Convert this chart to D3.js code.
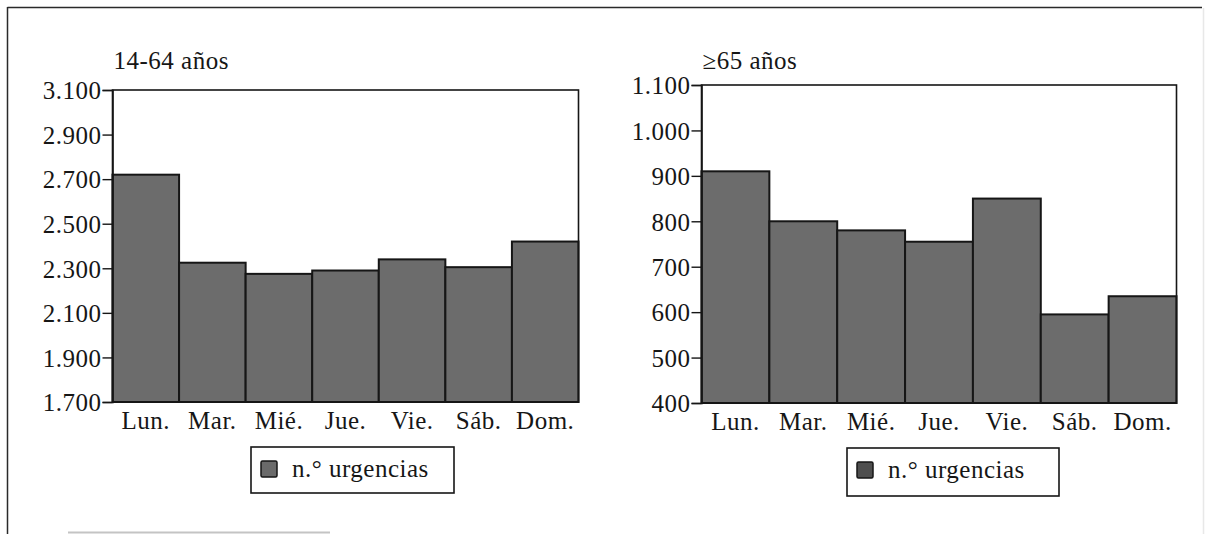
<!DOCTYPE html>
<html lang="es">
<head>
<meta charset="utf-8">
<script src="https://cdn.jsdelivr.net/npm/d3@7"></script>
<style>
  html, body { margin: 0; padding: 0; background: #fff; }
  svg { display: block; }
  text { font-family: "Liberation Serif", "Times New Roman", serif; fill: #161616; letter-spacing: 0.5px; }
</style>
</head>
<body>
<svg id="chart" width="1212" height="534"></svg>
<script>
// Urgencias por día de la semana, por grupo de edad
const dias = ["Lun.", "Mar.", "Mié.", "Jue.", "Vie.", "Sáb.", "Dom."];

const urgencias14a64 = [2720, 2325, 2275, 2290, 2340, 2305, 2420];
const urgencias65mas = [910, 800, 780, 755, 850, 595, 635];

const ticks14a64 = [1700, 1900, 2100, 2300, 2500, 2700, 2900, 3100];
const ticks65mas = [400, 500, 600, 700, 800, 900, 1000, 1100];

const titulos = ["14-64 años", "\u226565 años"];
const leyenda = "n.\u00b0 urgencias";

// Separador de miles con punto
const es = d3.formatLocale({ decimal: ",", thousands: ".", grouping: [3], currency: ["", " €"] });
const fmt = es.format(",d");

const svg = d3.select("#chart");
const INK = "#161616";
const BAR = "#6c6c6c";
const FONT = "Liberation Serif, serif";

// Marco exterior de la página
svg.append("line").attr("x1", 7.5).attr("x2", 1202).attr("y1", 7.5).attr("y2", 7.5)
  .attr("stroke", "#2a2a2a").attr("stroke-width", 1.5);
svg.append("line").attr("x1", 7.5).attr("x2", 7.5).attr("y1", 7).attr("y2", 534)
  .attr("stroke", "#2a2a2a").attr("stroke-width", 1.5);
svg.append("line").attr("x1", 1203.5).attr("x2", 1203.5).attr("y1", 8).attr("y2", 534)
  .attr("stroke", "#e8e8e8").attr("stroke-width", 1.5);
svg.append("line").attr("x1", 68).attr("x2", 330).attr("y1", 532.5).attr("y2", 532.5)
  .attr("stroke", "#c4c4c4").attr("stroke-width", 2);

const paneles = [
  { titulo: titulos[0], valores: urgencias14a64, ticks: ticks14a64,
    x0: 112.5, x1: 578.5, yTop: 90, yBot: 402,
    leg: { x: 251, y: 447, w: 203, h: 46 }, swatch: "#6a6a6a" },
  { titulo: titulos[1], valores: urgencias65mas, ticks: ticks65mas,
    x0: 701.5, x1: 1176.5, yTop: 85, yBot: 403,
    leg: { x: 847, y: 448, w: 212, h: 48 }, swatch: "#4e4e4e" }
];

paneles.forEach(p => {
  const g = svg.append("g");
  const x = d3.scaleBand().domain(dias).range([p.x0, p.x1]).padding(0);
  const y = d3.scaleLinear().domain([d3.min(p.ticks), d3.max(p.ticks)]).range([p.yBot, p.yTop]);

  // Barras
  g.append("g").selectAll("rect").data(p.valores).join("rect")
    .attr("x", (d, i) => x(dias[i]))
    .attr("y", d => y(d))
    .attr("width", x.bandwidth())
    .attr("height", d => y.range()[0] - y(d))
    .attr("fill", BAR)
    .attr("stroke", INK)
    .attr("stroke-width", 2);

  // Recuadro del área de trazado
  g.append("rect")
    .attr("x", p.x0).attr("y", p.yTop)
    .attr("width", p.x1 - p.x0).attr("height", p.yBot - p.yTop)
    .attr("fill", "none").attr("stroke", INK).attr("stroke-width", 1.6);

  // Eje vertical
  const ay = g.append("g").attr("transform", `translate(${p.x0},0)`)
    .call(d3.axisLeft(y).tickValues(p.ticks).tickFormat(fmt).tickSize(10).tickPadding(1));
  ay.select(".domain").attr("stroke", INK).attr("stroke-width", 1.6);
  ay.selectAll(".tick line").attr("stroke", INK).attr("stroke-width", 1.4);
  ay.selectAll(".tick text")
    .attr("fill", INK).attr("font-size", 25)
    .attr("font-family", FONT)
    .attr("dy", "0.35em");

  // Eje horizontal (solo rótulos)
  const ax = g.append("g").attr("transform", `translate(0,${p.yBot})`)
    .call(d3.axisBottom(x).tickSize(0).tickPadding(0));
  ax.select(".domain").remove();
  ax.selectAll(".tick text")
    .attr("fill", INK).attr("font-size", 25)
    .attr("font-family", FONT)
    .attr("dy", 0).attr("y", 27);

  // Título del panel
  g.append("text").attr("x", p.x0 + 1).attr("y", 69)
    .attr("font-size", 25).text(p.titulo);

  // Leyenda
  const L = p.leg;
  g.append("rect").attr("x", L.x).attr("y", L.y).attr("width", L.w).attr("height", L.h)
    .attr("fill", "none").attr("stroke", INK).attr("stroke-width", 1.6);
  g.append("rect").attr("x", L.x + 10).attr("y", L.y + 14).attr("width", 16).attr("height", 16)
    .attr("rx", 1.5).attr("fill", p.swatch).attr("stroke", INK).attr("stroke-width", 1.5);
  g.append("text").attr("x", L.x + 41).attr("y", L.y + 30)
    .attr("font-size", 25).text(leyenda);
});
</script>
</body>
</html>
